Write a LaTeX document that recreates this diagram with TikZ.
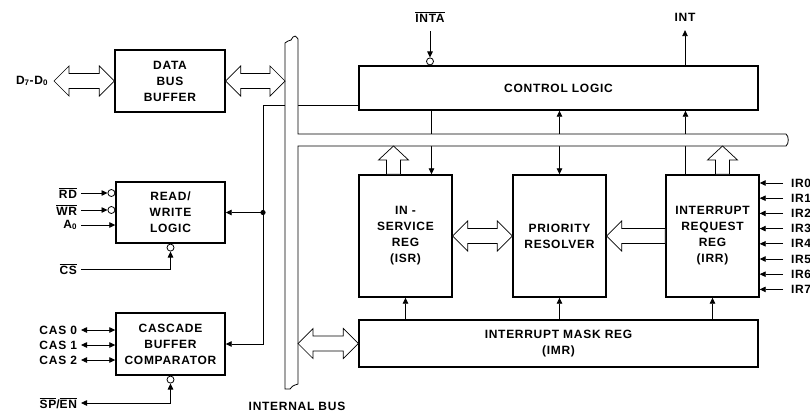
\documentclass[tikz,border=0pt]{standalone}
\usepackage{fontspec}
\setmainfont{Liberation Sans}
\newfontfamily\blockfont[LetterSpace=6]{Liberation Sans}
\usetikzlibrary{arrows.meta,calc,positioning}

\tikzset{
  blk/.style={draw, line width=1.4pt, inner sep=2pt, align=center},
  hollow/.style={draw, fill=white, line width=0.7pt, line join=miter},
  bub/.style={circle, draw, line width=0.8pt, fill=white, minimum size=7pt, inner sep=0pt},
  pinl/.style={inner sep=0pt, outer sep=4pt, anchor=east},
  pinr/.style={inner sep=0pt, outer sep=8pt, anchor=west},
  pint/.style={inner sep=0pt, outer sep=9pt},
  busline/.style={draw, fill=white, line width=0.8pt},
}

% hollow bus arrows
\newcommand\hdbl[2]{%
  \draw[hollow] (#1) -- ($(#1)+(15,-15)$) -- ($(#1)+(15,-7.5)$)
    -- ($(#2)+(-15,-7.5)$) -- ($(#2)+(-15,-15)$) -- (#2)
    -- ($(#2)+(-15,15)$) -- ($(#2)+(-15,7.5)$)
    -- ($(#1)+(15,7.5)$) -- ($(#1)+(15,15)$) -- cycle;}
\newcommand\hsgl[2]{%
  \draw[hollow] (#1) -- ($(#1)+(15,-15)$) -- ($(#1)+(15,-7.5)$)
    -- ($(#2)+(0,-7.5)$) -- ($(#2)+(0,7.5)$)
    -- ($(#1)+(15,7.5)$) -- ($(#1)+(15,15)$) -- cycle;}
\newcommand\vsgl[2]{%
  \draw[hollow] ($(#1)+(-7,0)$) -- ($(#2)+(-7,14)$) -- ($(#2)+(-15,14)$)
    -- (#2) -- ($(#2)+(15,14)$) -- ($(#2)+(7,14)$) -- ($(#1)+(7,0)$) -- cycle;}

\begin{document}
\begin{tikzpicture}[x=1pt, y=-1pt, line width=0.8pt,
    font={\blockfont\bfseries\fontsize{12}{16}\selectfont},
    >={Triangle[length=6pt,width=5.5pt]}]
    \useasboundingbox (0,0) rectangle (810,412);

    % Blocks
    \node[blk, minimum width=110pt, minimum height=62pt] (dbb) at (170,81) {DATA\\BUS\\BUFFER};
    \node[blk, minimum width=109pt, minimum height=61pt] (rw) at (170.5,212.5) {READ/\\WRITE\\LOGIC};
    \node[blk, minimum width=109pt, minimum height=62pt] (cas) at (170.5,344) {CASCADE\\BUFFER\\COMPARATOR};
    \node[blk, minimum width=399pt, minimum height=44pt] (ctrl) at (558.5,88) {CONTROL LOGIC};
    \node[blk, minimum width=93pt, minimum height=122pt] (isr) at (405.5,236) {IN -\\SERVICE\\REG\\(ISR)};
    \node[blk, minimum width=93pt, minimum height=122pt] (pr) at (559.5,236) {PRIORITY\\RESOLVER};
    \node[blk, minimum width=93pt, minimum height=122pt] (irr) at (712.5,236) {INTERRUPT\\REQUEST\\REG\\(IRR)};
    \node[blk, minimum width=399pt, minimum height=47pt] (imr) at (558.5,343.5) {INTERRUPT MASK REG\\(IMR)};

    % Bus edges
    \coordinate (busl) at (285,0);
    \coordinate (busr) at (298,0);
    \coordinate (busb) at (0,146);
    \coordinate (tap) at (263,0);

    % Control lines (crossing the bus)
    \coordinate (cl) at ($(ctrl.south west)+(0,-5)$);
    \draw[->] (cl) -| (tap |- cas.east) -- (cas.east);
    \draw[->] (tap |- rw.east) -- (rw.east);
    \fill (tap |- rw.east) circle (2.6pt);
    \coordinate (c1) at ($(isr.north)+(26,0)$);
    \coordinate (c3) at ($(irr.north)+(-27,0)$);
    \draw[->] (ctrl.south -| c1) -- (c1);
    \draw[<->] (ctrl.south -| pr.north) -- (pr.north);
    \draw[->] (c3) -- (ctrl.south -| c3);

    % Internal bus
    \path[busline] (285,43) -- (285,389) -- (290,389)
        .. controls (292,387) and (293,385) .. (295,385) -- (298,384)
        -- (298,146) -- (786,146) .. controls (789,144) and (789,136) .. (786,134)
        -- (298,134) -- (298,39) .. controls (296,36) and (294,35) .. (293,37)
        .. controls (292,40) and (290,41) .. (288,41) -- cycle;
    \node (buslbl) at (297,406) {INTERNAL BUS};

    % Hollow arrows
    \node[pinl, outer sep=6pt] (dl) at (54,81) {D\textsubscript{7}-D\textsubscript{0}};
    \hdbl{dl.east}{dbb.west}
    \hdbl{dbb.east}{dbb.east -| busl}
    \hdbl{imr.west -| busr}{imr.west}
    \hdbl{isr.east}{pr.west}
    \hsgl{pr.east}{irr.west}
    \coordinate (u1) at ($(isr.north)+(-12,0)$);
    \coordinate (u1t) at (u1 |- busb);
    \vsgl{u1}{u1t}
    \coordinate (u3) at ($(irr.north)+(10,0)$);
    \coordinate (u3t) at (u3 |- busb);
    \vsgl{u3}{u3t}

    % Read/write inputs
    \node[pinl] (rdl) at (81,193) {$\overline{\hbox{RD}}$};
    \node[pinl] (wrl) at (81,210) {$\overline{\hbox{WR}}$};
    \node[pinl] (a0l) at (81,225) {A\textsubscript{0}};
    \node[pinl] (csl) at (81,269) {$\overline{\hbox{CS}}$};
    \node[bub, anchor=east] (rdb) at (rw.west |- rdl) {};
    \node[bub, anchor=east] (wrb) at (rw.west |- wrl) {};
    \node[bub, anchor=north] (csb) at (rw.south) {};
    \draw[->] (rdl) -- (rdb);
    \draw[->] (wrl) -- (wrb);
    \draw[->] (a0l) -- (rw.west |- a0l);
    \draw[->] (csl) -| (csb);

    % Cascade lines
    \foreach \i/\y in {0/330,1/345,2/360} {
        \node[pinl] (casl\i) at (81,\y) {CAS \i};
        \draw[<->] (casl\i) -- (cas.west |- casl\i);
    }
    \node[pinl] (spl) at (81,403) {$\overline{\hbox{SP}}$/$\overline{\hbox{EN}}$};
    \node[bub, anchor=north] (spb) at (cas.south) {};
    \draw[<->] (spl) -| (spb);

    % Top pins
    \node[pint] (intal) at (430,17) {$\overline{\hbox{INTA}}$};
    \node[bub, anchor=south] (intab) at (ctrl.north -| intal) {};
    \draw[->] (intal) -- (intab);
    \node[pint] (intl) at (685,17) {INT};
    \draw[->] (ctrl.north -| intl) -- (intl);

    % Interrupt requests
    \foreach \i in {0,...,7} {
        \node[pinr] (ir\i) at (783,183+15.2*\i) {IR\i};
        \draw[->] (ir\i) -- (irr.east |- ir\i);
    }

    % Mask register to the three registers
    \draw[->] (imr.north -| isr.south) -- (isr.south);
    \draw[->] (imr.north -| pr.south) -- (pr.south);
    \draw[->] (imr.north -| irr.south) -- (irr.south);
\end{tikzpicture}
\end{document}
